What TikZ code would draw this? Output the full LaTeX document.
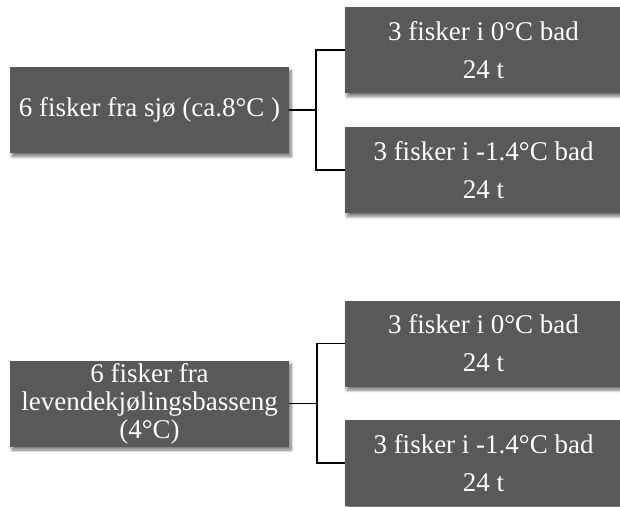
\documentclass[tikz,border=0pt]{standalone}
\usepackage{fontspec}
\setmainfont{Liberation Serif}
\usetikzlibrary{shadows.blur}
\definecolor{boxgray}{HTML}{595959}
\tikzset{
  fbox/.style={fill=boxgray, text=white, draw=none, align=center, inner sep=0pt,
    blur shadow={shadow xshift=2pt, shadow yshift=-3.5pt, shadow blur steps=8, shadow blur radius=3pt, shadow opacity=55}},
  leftbox/.style={fbox, minimum width=279pt, minimum height=86pt,
    font=\fontsize{27}{28}\selectfont},
  rightbox/.style={fbox, minimum width=277pt, minimum height=86pt,
    font=\fontsize{27}{38}\selectfont},
  conn/.style={draw=black, line width=1.2pt}
}
\begin{document}
\begin{tikzpicture}[x=1pt,y=1pt]
\useasboundingbox (0,0) rectangle (620,-506);
% top group
\node[leftbox] (L1) at (149.5,-110) {6 fisker fra sjø (ca.8°C )};
\node[rightbox] (R1) at (483.5,-50) {3 fisker i 0°C bad\\24 t};
\node[rightbox] (R2) at (483.5,-170) {3 fisker i -1.4°C bad\\24 t};
\coordinate (J1) at (316,-110);
\draw[conn] (L1.east) -- (J1);
\draw[conn] (R1.west) -| (J1) |- (R2.west);
% bottom group
\node[leftbox] (L2) at (149.5,-403.5) {6 fisker fra\\levendekjølingsbasseng\\(4°C)};
\node[rightbox] (R3) at (483.5,-343.5) {3 fisker i 0°C bad\\24 t};
\node[rightbox] (R4) at (483.5,-463) {3 fisker i -1.4°C bad\\24 t};
\coordinate (J2) at (317,-403.5);
\draw[conn] (L2.east) -- (J2);
\draw[conn] (R3.west) -| (J2) |- (R4.west);
\end{tikzpicture}
\end{document}
